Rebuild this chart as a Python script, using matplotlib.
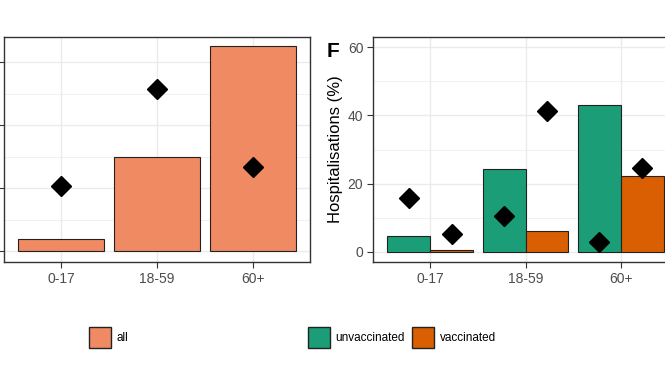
import matplotlib
matplotlib.use("Agg")
import matplotlib.pyplot as plt
from matplotlib.patches import Patch
import numpy as np

plt.rcParams['font.family'] = ['Liberation Sans', 'DejaVu Sans']

# data
age_groups = ["0-17", "18-59", "60+"]

# left panel (axis labels cropped away in the reference)
all_bars = [3.8, 30.0, 65.1]
all_points = [20.7, 51.4, 26.8]

# right panel, hospitalisations (%)
unvacc_bars = [4.6, 24.4, 43.0]
vacc_bars = [0.4, 6.2, 22.2]
unvacc_points = [15.9, 10.6, 2.8]
vacc_points = [5.2, 41.2, 24.6]

col_all = "#EF8A62"
col_unvacc = "#1B9E77"
col_vacc = "#D95F02"
grid_col = "#EBEBEB"
text_col = "#4D4D4D"

W, H = 665, 374
fig = plt.figure(figsize=(W / 100, H / 100), dpi=100)


def px_box(x0, y0, x1, y1):
    return [x0 / W, 1 - y1 / H, (x1 - x0) / W, (y1 - y0) / H]


def style(ax, yticks, ylim):
    ax.set_xlim(0.4, 3.6)
    ax.set_ylim(*ylim)
    ax.set_xticks(np.arange(1, 4))
    ax.set_xticklabels(age_groups)
    ax.set_yticks(yticks)
    minor = [(a + b) / 2 for a, b in zip(yticks[:-1], yticks[1:])]
    ax.set_yticks(minor, minor=True)
    ax.grid(True, which="major", color=grid_col, lw=1.0, zorder=0)
    ax.grid(True, which="minor", axis="y", color=grid_col, lw=0.5, zorder=0)
    ax.set_axisbelow(True)
    for s in ax.spines.values():
        s.set_color("#333333")
        s.set_linewidth(1.0)
    ax.tick_params(which="major", length=4, width=0.8, color="#333333",
                   labelcolor=text_col, labelsize=10, pad=3)
    ax.tick_params(which="minor", length=0)


x = np.arange(1, 4)

# left panel
ax1 = fig.add_axes(px_box(4, 37, 310, 262))
ax1.bar(x, all_bars, width=0.9, color=col_all, edgecolor="#222222", lw=0.8, zorder=2)
ax1.plot(x, all_points, "D", color="black", ms=10.5, ls="none", zorder=3)
style(ax1, [0, 20, 40, 60], (-3.5, 68))
# tick labels of this panel fall outside the cropped picture
ax1.tick_params(axis="y", labelleft=False)

# right panel
ax2 = fig.add_axes(px_box(373, 37, 678, 262))
bw = 0.45
ax2.bar(x - bw / 2, unvacc_bars, width=bw, color=col_unvacc, edgecolor="#222222", lw=0.8, zorder=2)
ax2.bar(x + bw / 2, vacc_bars, width=bw, color=col_vacc, edgecolor="#222222", lw=0.8, zorder=2)
ax2.plot(x - bw / 2, unvacc_points, "D", color="black", ms=10.5, ls="none", zorder=3)
ax2.plot(x + bw / 2, vacc_points, "D", color="black", ms=10.5, ls="none", zorder=3)
style(ax2, [0, 20, 40, 60], (-3, 63))
ax2.set_ylabel("Hospitalisations (%)", fontsize=12, color="black", labelpad=3)

fig.text(327 / W, 1 - 57 / H, "F", fontsize=15, fontweight="bold", va="baseline", ha="left")

# legends
leg_kw = dict(frameon=False, borderpad=0, borderaxespad=0, fontsize=8.5,
              handlelength=1.85, handleheight=2.35, handletextpad=0.5,
              columnspacing=0.6, loc="center left")
fig.legend(handles=[Patch(facecolor=col_all, edgecolor="#222222", label="all")],
           bbox_to_anchor=(89 / W, 1 - 337.5 / H), **leg_kw)
fig.legend(handles=[Patch(facecolor=col_unvacc, edgecolor="#222222", label="unvaccinated"),
                    Patch(facecolor=col_vacc, edgecolor="#222222", label="vaccinated")],
           ncol=2, bbox_to_anchor=(308 / W, 1 - 337.5 / H), **leg_kw)

fig.savefig("out.png", dpi=100)
